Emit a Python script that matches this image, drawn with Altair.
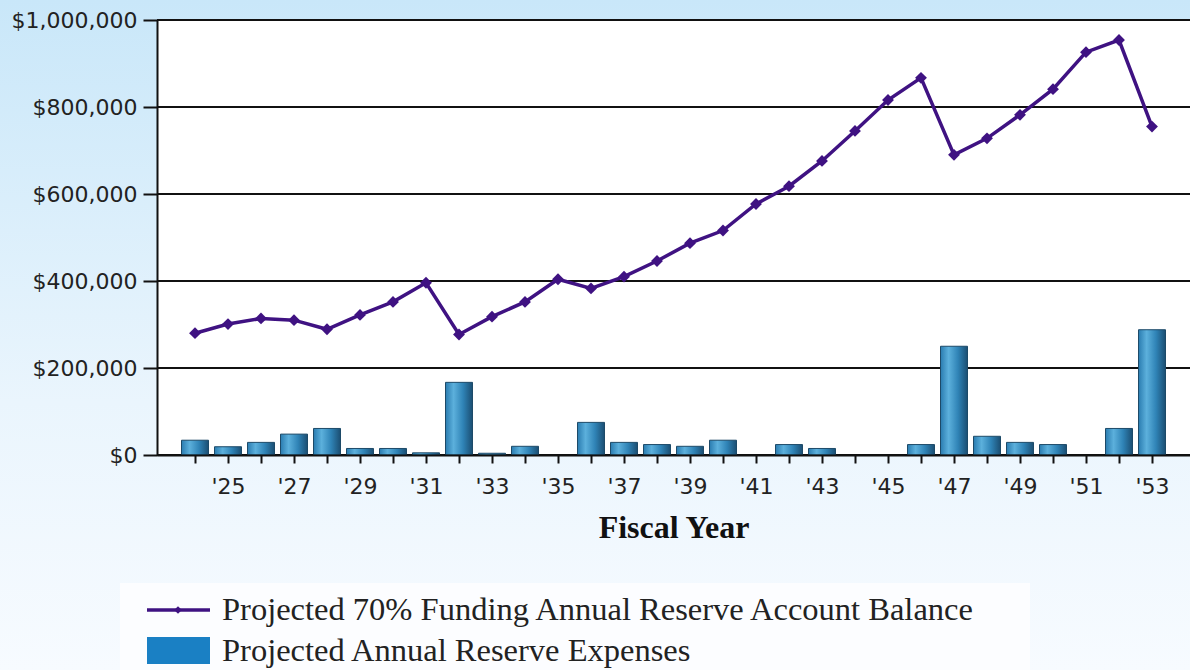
import altair as alt
import pandas as pd

years = list(range(2024, 2054))
balance = [280000, 301000, 314000, 310000, 289000, 322000, 352000, 396000, 277000, 318000,
           352000, 404000, 383000, 410000, 446000, 487000, 516000, 577000, 618000, 676000,
           745000, 816000, 867000, 690000, 728000, 782000, 841000, 926000, 954000, 755000]
expenses = [34000, 19000, 29000, 48000, 61000, 15000, 15000, 5000, 167000, 4000,
            20000, 0, 75000, 29000, 24000, 20000, 34000, 0, 24000, 15000,
            0, 0, 24000, 250000, 43000, 29000, 24000, 0, 61000, 288000]
y_ticks = [0, 200000, 400000, 600000, 800000, 1000000]
series_names = ["Projected 70% Funding Annual Reserve Account Balance",
                "Projected Annual Reserve Expenses"]

W, H = 1033, 435
PURPLE = "#3f1282"

df = pd.DataFrame({"year": years, "balance": balance, "expenses": expenses})
bars_df = df[df["expenses"] > 0]
grid_df = pd.DataFrame({"v": y_ticks})
one = pd.DataFrame({"k": [0]})

xscale = alt.Scale(domain=[2023, 2054], nice=False, zero=False)
yscale = alt.Scale(domain=[0, 1000000], nice=False)

x_axis = alt.Axis(
    values=years, format="d",
    labelExpr="datum.value % 2 == 1 ? \"'\" + slice(datum.label, 2) : ''",
    labelOverlap=False, labelFont="DejaVu Sans", labelFontSize=22, labelColor="#222222",
    labelPadding=13, tickSize=8, tickColor="#111111", tickWidth=2,
    domainColor="#111111", domainWidth=2, grid=False,
    title="Fiscal Year", titleFont="Liberation Serif", titleFontSize=32,
    titleFontWeight="bold", titleColor="#111111", titlePadding=15, zindex=2,
)
y_axis = alt.Axis(
    values=y_ticks, format="$,.0f", labelFont="DejaVu Sans", labelFontSize=22,
    labelColor="#222222", labelPadding=6, tickSize=14, tickColor="#111111", tickWidth=2,
    domainColor="#111111", domainWidth=2, grid=False, title=None, zindex=2,
)

X = alt.X("year:Q", scale=xscale, axis=x_axis)

bg = alt.Chart(one).mark_rect(
    color=alt.Gradient(gradient="linear",
                       stops=[alt.GradientStop(color="#c9e7f9", offset=0),
                              alt.GradientStop(color="#eaf5fd", offset=0.6),
                              alt.GradientStop(color="#f7fbff", offset=1)],
                       x1=0, x2=0, y1=0, y2=1)
).encode(x=alt.value(-157), x2=alt.value(W), y=alt.value(-20), y2=alt.value(650))

plot_bg = alt.Chart(one).mark_rect(color="#ffffff").encode(
    x=alt.value(0), x2=alt.value(W), y=alt.value(0), y2=alt.value(H))

legend_box = alt.Chart(one).mark_rect(color="#fcfdff").encode(
    x=alt.value(-37), x2=alt.value(873), y=alt.value(563), y2=alt.value(650))

grid = alt.Chart(grid_df).mark_rule(color="#111111", strokeWidth=2).encode(
    y=alt.Y("v:Q", scale=yscale, axis=y_axis), x=alt.value(0), x2=alt.value(W))

bars = alt.Chart(bars_df).mark_bar(
    size=27, stroke="#1d4a68", strokeWidth=1,
    color=alt.Gradient(gradient="linear",
                       stops=[alt.GradientStop(color="#2a7cb0", offset=0),
                              alt.GradientStop(color="#5cb0dc", offset=0.3),
                              alt.GradientStop(color="#2f83b6", offset=0.65),
                              alt.GradientStop(color="#1b4e72", offset=1)],
                       x1=0, x2=1, y1=0, y2=0)
).encode(x=X, y=alt.Y("expenses:Q", scale=yscale, axis=y_axis))

line = alt.Chart(df).mark_line(color=PURPLE, strokeWidth=3.5).encode(
    x=X, y=alt.Y("balance:Q", scale=yscale, axis=y_axis))

pts = alt.Chart(df).mark_point(shape="diamond", filled=True, color=PURPLE, size=140, opacity=1).encode(
    x=X, y=alt.Y("balance:Q", scale=yscale, axis=y_axis))

leg_line = alt.Chart(one).mark_rule(color=PURPLE, strokeWidth=3.5).encode(
    x=alt.value(-10), x2=alt.value(53), y=alt.value(590))
leg_pt = alt.Chart(one).mark_point(shape="diamond", filled=True, color=PURPLE, size=60, opacity=1).encode(
    x=alt.value(21), y=alt.value(590))
leg_sq = alt.Chart(one).mark_rect(color="#1a80c4").encode(
    x=alt.value(-10), x2=alt.value(53), y=alt.value(617), y2=alt.value(644))
leg_t1 = alt.Chart(one).mark_text(
    text=series_names[0], align="left", baseline="middle", font="Liberation Serif",
    fontSize=32.5, color="#222222").encode(x=alt.value(65), y=alt.value(590))
leg_t2 = alt.Chart(one).mark_text(
    text=series_names[1], align="left", baseline="middle", font="Liberation Serif",
    fontSize=32.5, color="#222222").encode(x=alt.value(65), y=alt.value(631))

chart = alt.layer(
    bg, plot_bg, legend_box, grid, bars, line, pts,
    leg_line, leg_pt, leg_sq, leg_t1, leg_t2
).properties(
    width=W, height=H,
    autosize=alt.AutoSizeParams(type="none"),
    padding={"left": 157, "top": 20, "right": 0, "bottom": 215},
    background="#ffffff",
).configure_view(stroke=None)

chart.save("out.html", embed_options={"renderer": "svg", "actions": False})
